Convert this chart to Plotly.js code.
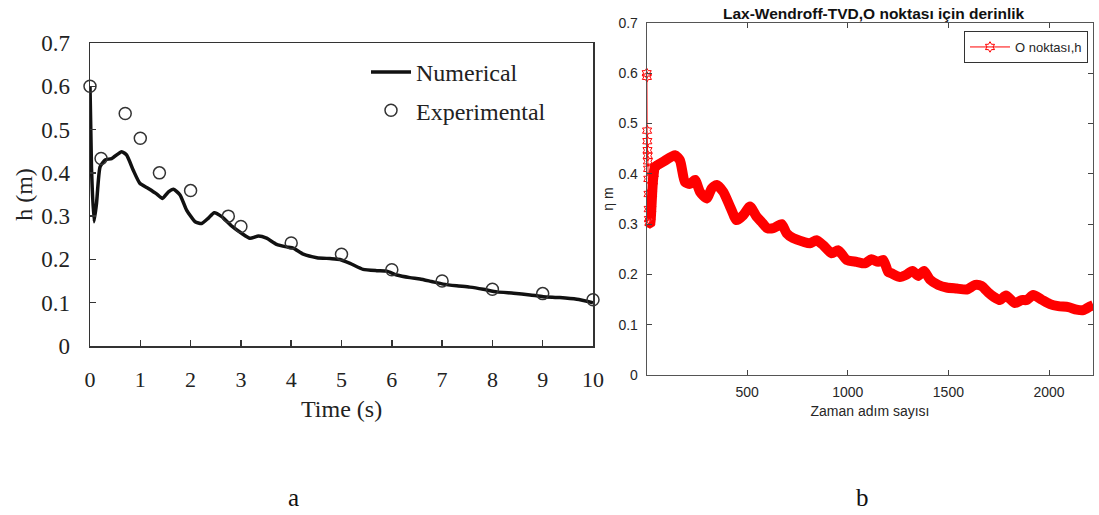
<!DOCTYPE html>
<html>
<head>
<meta charset="utf-8">
<script src="https://cdn.plot.ly/plotly-3.0.1.min.js"></script>
<style>html,body{margin:0;padding:0;background:#fff;}#chart{width:1099px;height:515px;}</style>
</head>
<body>
<div id="chart"></div>
<script>
// ---- Chart a: numerical vs experimental depth ----
const numTime = [0, 0.03, 0.08, 0.13, 0.2, 0.3, 0.43, 0.63, 0.73, 0.86, 0.99, 1.16, 1.33, 1.44, 1.56, 1.66, 1.79, 1.92, 2.09, 2.22, 2.35, 2.47, 2.62, 2.82, 3.02, 3.18, 3.35, 3.51, 3.71, 3.91, 4.04, 4.24, 4.51, 4.77, 4.97, 5.17, 5.43, 5.7, 5.9, 6.1, 6.36, 6.56, 6.79, 7.02, 7.29, 7.55, 7.82, 8.09, 8.42, 8.75, 9.01, 9.34, 9.68, 10.0];
const numH = [0.6, 0.41, 0.287, 0.33, 0.414, 0.43, 0.433, 0.449, 0.441, 0.406, 0.376, 0.364, 0.351, 0.341, 0.356, 0.362, 0.349, 0.314, 0.287, 0.283, 0.295, 0.308, 0.299, 0.277, 0.26, 0.249, 0.254, 0.249, 0.235, 0.229, 0.226, 0.212, 0.204, 0.202, 0.2, 0.191, 0.177, 0.174, 0.173, 0.164, 0.158, 0.155, 0.149, 0.143, 0.139, 0.136, 0.131, 0.125, 0.122, 0.118, 0.114, 0.112, 0.108, 0.1];
const expTime = [0, 0.22, 0.7, 1.0, 1.38, 2.0, 2.75, 3.0, 4, 5, 6, 7, 8, 9, 10];
const expH = [0.6, 0.433, 0.537, 0.48, 0.4, 0.359, 0.3, 0.276, 0.238, 0.212, 0.176, 0.15, 0.131, 0.121, 0.107];
const tickA = [0, 1, 2, 3, 4, 5, 6, 7, 8, 9, 10];

// ---- Chart b: Lax-Wendroff-TVD depth at point O (time step, depth) ----
const steps = [1, 2, 3, 4, 5, 6, 7, 8, 9, 10, 11, 12, 14, 17, 20, 24, 28, 32, 36, 42, 83, 141, 166, 191, 216, 241, 266, 299, 324, 349, 382, 415, 448, 481, 514, 547, 570, 600, 630, 671, 696, 729, 779, 812, 845, 878, 920, 953, 994, 1044, 1085, 1118, 1151, 1176, 1201, 1218, 1259, 1293, 1321, 1350, 1379, 1408, 1450, 1491, 1541, 1591, 1632, 1665, 1698, 1723, 1756, 1786, 1830, 1864, 1889, 1922, 1963, 2005, 2046, 2096, 2137, 2170, 2203, 2220];
const depth = [0.600, 0.593, 0.486, 0.465, 0.447, 0.436, 0.425, 0.41, 0.39, 0.36, 0.33, 0.31, 0.303, 0.302, 0.305, 0.33, 0.36, 0.385, 0.40, 0.414, 0.424, 0.437, 0.427, 0.384, 0.38, 0.388, 0.364, 0.351, 0.371, 0.378, 0.364, 0.335, 0.308, 0.318, 0.335, 0.315, 0.305, 0.292, 0.292, 0.30, 0.282, 0.272, 0.265, 0.262, 0.268, 0.258, 0.242, 0.248, 0.229, 0.225, 0.222, 0.23, 0.225, 0.229, 0.205, 0.202, 0.195, 0.2, 0.207, 0.197, 0.207, 0.19, 0.179, 0.174, 0.172, 0.17, 0.179, 0.177, 0.164, 0.156, 0.149, 0.158, 0.143, 0.149, 0.149, 0.159, 0.15, 0.141, 0.137, 0.135, 0.13, 0.129, 0.136, 0.139];
const tickB = [500, 1000, 1500, 2000];

// the first steps are drawn as separate star markers, the rest forms the dense band
const bandFrom = steps.indexOf(14);
const markersTo = steps.indexOf(42) + 1;

const serif = 'Liberation Serif, Times New Roman, serif';
const sans = 'Liberation Sans, Arial, sans-serif';
const W = 1099, H = 515;
const px = v => v / W;
const py = v => 1 - v / H;

const traces = [
  {x: numTime, y: numH, xaxis: 'x', yaxis: 'y', mode: 'lines', name: 'Numerical',
   line: {color: '#111', width: 3.5, shape: 'spline', smoothing: 0.5}, legend: 'legend', legendgroup: 'a1'},
  {x: expTime, y: expH, xaxis: 'x', yaxis: 'y', mode: 'markers', name: 'Experimental', cliponaxis: false,
   marker: {symbol: 'circle-open', size: 12, color: '#333', line: {width: 1.5, color: '#333'}}, legend: 'legend', legendgroup: 'a2'},
  {x: steps.slice(bandFrom), y: depth.slice(bandFrom), xaxis: 'x2', yaxis: 'y2', mode: 'lines', showlegend: false,
   line: {color: '#ff0000', width: 10, shape: 'spline', smoothing: 0.6}},
  {x: steps.slice(0, markersTo), y: depth.slice(0, markersTo), xaxis: 'x2', yaxis: 'y2', mode: 'lines+markers', name: 'O noktası,h', legend: 'legend2',
   cliponaxis: false,
   line: {color: '#ff0000', width: 1}, marker: {symbol: 'hexagram-open', size: 8, color: '#ff0000', line: {width: 1, color: '#ff0000'}}}
];

const layout = {
  width: W, height: H,
  margin: {l: 0, r: 0, t: 0, b: 0},
  paper_bgcolor: '#fff', plot_bgcolor: '#fff',
  showlegend: true,
  xaxis: {domain: [px(90), px(593)], range: [0, 10], tickvals: tickA, anchor: 'y',
    ticks: 'inside', ticklen: 6, tickwidth: 1.5, tickcolor: '#333',
    showline: true, linecolor: '#333', linewidth: 1.5, mirror: true,
    showgrid: false, zeroline: false, ticklabelstandoff: 13,
    tickfont: {family: serif, size: 22, color: '#222'}},
  yaxis: {domain: [py(346), py(43)], range: [0, 0.7], dtick: 0.1, anchor: 'x',
    ticks: 'inside', ticklen: 6, tickwidth: 1.5, tickcolor: '#333',
    showline: true, linecolor: '#333', linewidth: 1.5, mirror: true,
    showgrid: false, zeroline: false, ticklabelstandoff: 14,
    tickfont: {family: serif, size: 23, color: '#222'},
    title: {text: 'h (m)', font: {family: serif, size: 24, color: '#222'}, standoff: 2}},
  xaxis2: {domain: [px(646.7), px(1093.3)], range: [1, 2220], tickvals: tickB, anchor: 'y2',
    ticks: 'inside', ticklen: 5, tickwidth: 1, tickcolor: '#444',
    showline: true, linecolor: '#555', linewidth: 1, mirror: 'ticks',
    showgrid: false, zeroline: false, ticklabelstandoff: 4,
    tickfont: {family: sans, size: 14, color: '#262626'},
    title: {text: 'Zaman adım sayısı', font: {family: sans, size: 14, color: '#262626'}, standoff: 7}},
  yaxis2: {domain: [py(375), py(23)], range: [0, 0.7], dtick: 0.1, anchor: 'x2',
    ticks: 'inside', ticklen: 5, tickwidth: 1, tickcolor: '#444',
    showline: true, linecolor: '#555', linewidth: 1, mirror: 'ticks',
    showgrid: false, zeroline: false, ticklabelstandoff: 5,
    tickfont: {family: sans, size: 14, color: '#262626'},
    title: {text: 'η m', font: {family: sans, size: 14, color: '#262626'}, standoff: 1}},
  legend: {x: px(366), y: py(50), xanchor: 'left', yanchor: 'top', bgcolor: 'rgba(0,0,0,0)',
    borderwidth: 0, tracegroupgap: 4, itemwidth: 40, font: {family: serif, size: 24, color: '#222'}},
  legend2: {x: px(964), y: py(31), xanchor: 'left', yanchor: 'top', bgcolor: '#fff', itemwidth: 40,
    bordercolor: '#333', borderwidth: 1, font: {family: sans, size: 13, color: '#262626'}},
  annotations: [
    {text: 'Time (s)', xref: 'paper', yref: 'paper', x: px(341), y: py(409), xanchor: 'center', yanchor: 'middle',
     showarrow: false, font: {family: serif, size: 24, color: '#222'}},
    {text: '<b>Lax-Wendroff-TVD,O noktası için derinlik</b>', xref: 'paper', yref: 'paper',
     x: px(874), y: py(13), xanchor: 'center', yanchor: 'middle', showarrow: false,
     font: {family: sans, size: 15.5, color: '#111'}},
    {text: 'a', xref: 'paper', yref: 'paper', x: px(293), y: py(497), xanchor: 'center', yanchor: 'middle',
     showarrow: false, font: {family: serif, size: 25, color: '#111'}},
    {text: 'b', xref: 'paper', yref: 'paper', x: px(862), y: py(497), xanchor: 'center', yanchor: 'middle',
     showarrow: false, font: {family: serif, size: 25, color: '#111'}}
  ]
};

Plotly.newPlot('chart', traces, layout, {displayModeBar: false, staticPlot: true});
</script>
</body>
</html>
